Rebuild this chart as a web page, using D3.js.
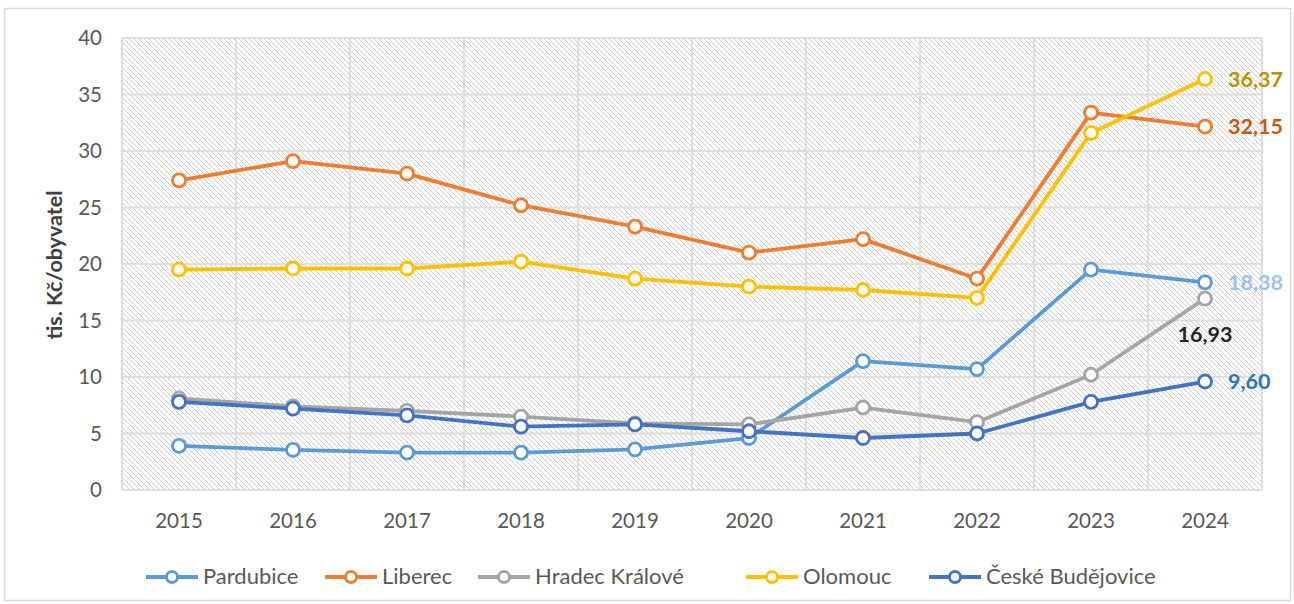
<!DOCTYPE html>
<html><head><meta charset="utf-8">
<script src="https://cdn.jsdelivr.net/npm/d3@7"></script>
<style>body{margin:0;background:#fff}svg{display:block}</style>
</head><body><svg id="c" width="1294" height="604"></svg>
<script>
const years = ["2015","2016","2017","2018","2019","2020","2021","2022","2023","2024"];
const yTicks = [0,5,10,15,20,25,30,35,40];
const seriesNames = ["Pardubice","Liberec","Hradec Králové","Olomouc","České Budějovice"];
const pardubice = [3.9,3.55,3.3,3.3,3.6,4.6,11.4,10.7,19.5,18.38];
const liberec = [27.4,29.1,28.0,25.2,23.3,21.0,22.2,18.7,33.4,32.15];
const hradec = [8.1,7.4,7.0,6.5,5.9,5.8,7.3,6.0,10.2,16.93];
const olomouc = [19.5,19.6,19.6,20.2,18.7,18.0,17.7,17.0,31.6,36.37];
const budejovice = [7.8,7.2,6.6,5.6,5.8,5.2,4.6,5.0,7.8,9.60];
const lastLabels = ["18,38","32,15","16,93","36,37","9,60"];

const colors = ["#5B9BD5","#ED7D31","#A5A5A5","#FFC000","#4472C4"];
const labelColors = ["#9DC3E6","#C55A11","#262626","#BF9000","#2E75B6"];
const allValues = [pardubice,liberec,hradec,olomouc,budejovice];

const svg = d3.select("#c");
const font = "Lato, 'Open Sans', sans-serif";
const L=122,R=1262,T=38,B=490;

svg.append("rect").attr("x",4.5).attr("y",8.5).attr("width",1286).attr("height",592)
  .attr("fill","#fff").attr("stroke","#d9d9d9").attr("stroke-width",1.5);

const defs = svg.append("defs");
const pat = defs.append("pattern").attr("id","hatch").attr("patternUnits","userSpaceOnUse")
  .attr("width",5).attr("height",5);
pat.append("rect").attr("width",5).attr("height",5).attr("fill","#fff");
pat.append("path").attr("d","M-1,-1 L6,6 M4,-1 L6,1 M-1,4 L1,6")
  .attr("stroke","#c6c6c6").attr("stroke-width",0.9);

const x = d3.scaleBand().domain(years).range([L,R]);
const y = d3.scaleLinear().domain([0,40]).range([B,T]);

svg.append("rect").attr("x",L).attr("y",T).attr("width",R-L).attr("height",B-T).attr("fill","url(#hatch)");

// gridlines
const g = svg.append("g");
g.selectAll("line.h").data(yTicks).join("line")
  .attr("x1",L).attr("x2",R).attr("y1",d=>y(d)).attr("y2",d=>y(d))
  .attr("stroke","#dedede").attr("stroke-width",2.2);
const bounds = years.map(d=>x(d)).concat([R]);
g.selectAll("line.v").data(bounds).join("line")
  .attr("y1",T).attr("y2",B).attr("x1",d=>d).attr("x2",d=>d)
  .attr("stroke","#dedede").attr("stroke-width",2.2);

// y axis labels
const yAxis = d3.axisLeft(y).tickValues(yTicks).tickSize(0).tickPadding(20);
const ya = svg.append("g").attr("transform",`translate(${L},0)`).call(yAxis);
ya.select(".domain").remove();
ya.selectAll("text").attr("font-family",font).attr("font-size",20.5).attr("fill","#595959");

const xAxis = d3.axisBottom(x).tickSize(0).tickPadding(23);
const xa = svg.append("g").attr("transform",`translate(0,${B})`).call(xAxis);
xa.select(".domain").remove();
xa.selectAll("text").attr("font-family",font).attr("font-size",20.5).attr("fill","#595959");

svg.append("text").attr("transform",`translate(62,265) rotate(-90)`)
  .attr("text-anchor","middle").attr("font-family",font).attr("font-weight","bold")
  .attr("font-size",21.5).attr("fill","#404040").text("tis. Kč/obyvatel");

const line = d3.line().x((d,i)=>x(years[i])+x.bandwidth()/2).y(d=>y(d));
allValues.forEach((vals,k)=>{
  const sg = svg.append("g");
  sg.append("path").datum(vals).attr("d",line).attr("fill","none")
    .attr("stroke",colors[k]).attr("stroke-width",3.8).attr("stroke-linejoin","round");
  sg.selectAll("circle").data(vals).join("circle")
    .attr("cx",(d,i)=>x(years[i])+x.bandwidth()/2).attr("cy",d=>y(d)).attr("r",6.5)
    .attr("fill","#fff").attr("stroke",colors[k]).attr("stroke-width",2.8);
});

// end labels
allValues.forEach((vals,k)=>{
  const cx = x(years[9])+x.bandwidth()/2, cy=y(vals[9]);
  const t = svg.append("text").attr("font-family",font).attr("font-weight","bold")
    .attr("font-size",21.5).attr("fill",labelColors[k]).text(lastLabels[k]);
  if(k===2){ t.attr("x",cx).attr("y",cy+43).attr("text-anchor","middle"); }
  else { t.attr("x",cx+23).attr("y",cy+7.5); }
});

// legend
const legX = [146,325,478,746,929];
const ly = 577;
seriesNames.forEach((n,k)=>{
  const lg = svg.append("g");
  lg.append("line").attr("x1",legX[k]).attr("x2",legX[k]+52).attr("y1",ly).attr("y2",ly)
    .attr("stroke",colors[k]).attr("stroke-width",3.8);
  lg.append("circle").attr("cx",legX[k]+26).attr("cy",ly).attr("r",5.5)
    .attr("fill","#fff").attr("stroke",colors[k]).attr("stroke-width",2.8);
  lg.append("text").attr("x",legX[k]+57).attr("y",ly+6.5).attr("font-family",font)
    .attr("font-size",22).attr("fill","#595959").text(n);
});
</script></body></html>
